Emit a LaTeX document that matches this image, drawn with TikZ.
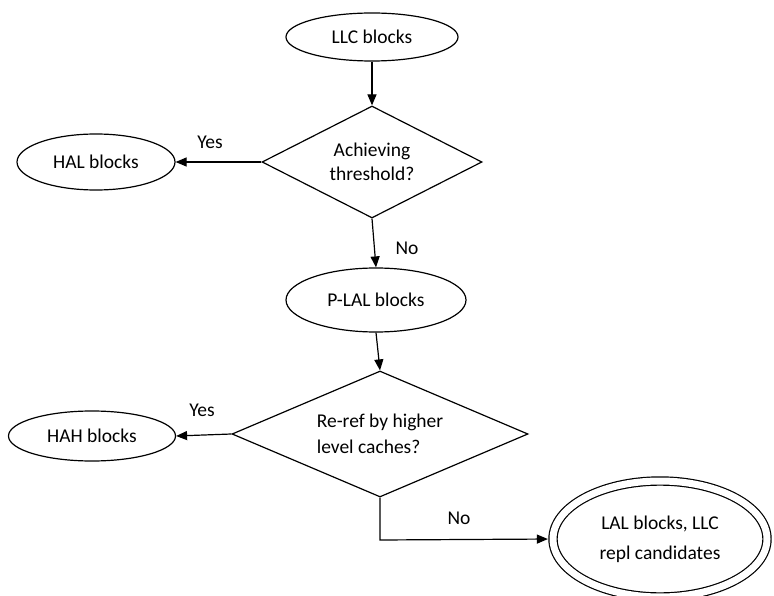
\documentclass[tikz,border=0pt]{standalone}
\usepackage{fontspec}
\setmainfont{Carlito}
\usetikzlibrary{shapes.geometric,arrows.meta}
\tikzset{
	blk/.style={ellipse, draw, line width=1.2pt, inner sep=0pt},
	dec/.style={diamond, draw, line width=1.2pt, inner sep=0pt, aspect=2},
	flow/.style={line width=1.2pt, -{Triangle[length=11pt,width=9pt]}}
}
\begin{document}
\begin{tikzpicture}[x=1pt, y=-1pt, font=\fontsize{19.5}{24}\selectfont]
	\useasboundingbox (0,0) rectangle (774,596);
	\node[blk, minimum width=172pt, minimum height=48pt] (llc) at (372,37) {LLC blocks};
	\node[dec, minimum width=220pt, minimum height=112pt, align=center] (thr) at (372,162) {Achieving\\threshold?};
	\node[blk, minimum width=158pt, minimum height=56pt] (hal) at (96,162) {HAL blocks};
	\node[blk, minimum width=180pt, minimum height=64pt] (plal) at (376,300) {P-LAL blocks};
	\node[dec, minimum width=296pt, minimum height=126pt, align=left] (reref) at (380,434) {Re-ref by higher\\[2pt]level caches?};
	\node[blk, minimum width=167pt, minimum height=50pt] (hah) at (92,436) {HAH blocks};
	\node[blk, double, double distance=7pt, minimum width=214pt, minimum height=116pt, align=center] (lal) at (660,539) {LAL blocks, LLC\\[6pt]repl candidates};
	\coordinate (bend) at (380,540);
	\begin{scriptsize}
		\node (yes1) at (210,142) {\fontsize{19.5}{24}\selectfont Yes};
		\node (no1) at (407,248) {\fontsize{19.5}{24}\selectfont No};
		\node (yes2) at (202,410) {\fontsize{19.5}{24}\selectfont Yes};
		\node (no2) at (459,518) {\fontsize{19.5}{24}\selectfont No};
	\end{scriptsize}
	\draw[flow] (llc) -- (thr);
	\draw[flow] (thr.west) -- (hal.east);
	\draw[flow] (thr.south) -- (plal.north);
	\draw[flow] (plal.south) -- (reref.north);
	\draw[flow] (reref.west) -- (hah.east);
	\draw[flow, shorten >=4.5pt] (reref.south) -- (bend) -- (lal.west);
\end{tikzpicture}
\end{document}
